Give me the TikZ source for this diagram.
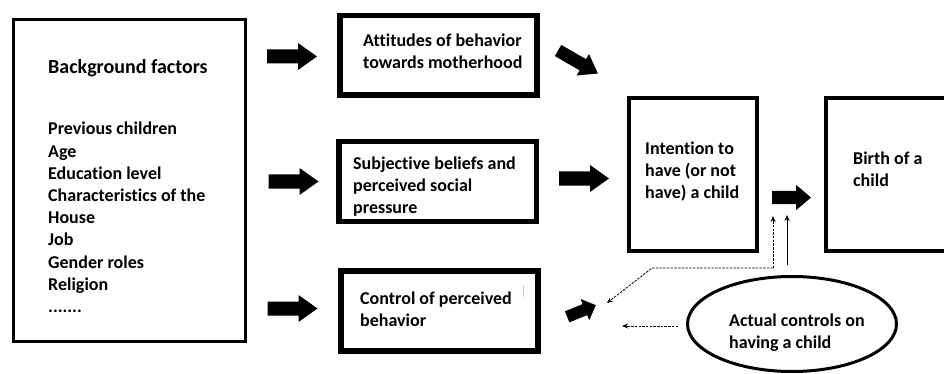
\documentclass[tikz,border=0pt]{standalone}
\usepackage{fontspec}
\setmainfont{Carlito}[Ligatures={TeX,NoCommon}]
\usetikzlibrary{shapes.geometric,arrows.meta}
\begin{document}
\begin{tikzpicture}[x=1pt, y=1pt, >={Stealth[length=6pt,width=5pt]},
		frame/.style={draw, rectangle, inner sep=0pt},
		txt/.style={font=\fontsize{18}{22}\selectfont\bfseries, align=left, anchor=north west, inner sep=0pt},
		dasharrow/.style={->, line width=0.8pt, dash pattern=on 2.5pt off 1.2pt},
		pics/fatarrow/.style={code={\fill (-25,-7) -- (6,-7) -- (6,-13.5) -- (25,0) -- (6,13.5) -- (6,7) -- (-25,7) -- cycle;}}]
	\clip (0,0) rectangle (944,-374);
	\node[frame, line width=3pt, minimum width=232, minimum height=322] (bgbox) at (129.5,-180.5) {};
	\node[frame, line width=5.5pt, minimum width=197, minimum height=79.5] (attbox) at (438.5,-55.25) {};
	\node[frame, line width=5.5pt, minimum width=197.5, minimum height=79.5] (subjbox) at (437.5,-181.5) {};
	\node[frame, line width=6pt, minimum width=197, minimum height=80] (ctrlbox) at (439.5,-311) {};
	\node[frame, line width=4pt, minimum width=128, minimum height=153] (intbox) at (693,-174.5) {};
	\node[frame, line width=4pt, minimum width=124, minimum height=153] (birthbox) at (888,-174.5) {};
	\node[draw, ellipse, line width=3pt, inner sep=0pt, minimum width=209, minimum height=95] (actell) at (792,-324) {};
	\node[txt, font=\fontsize{20}{24}\selectfont\bfseries] (bgtitle) at (48,-59) {Background factors};
	\node[txt, font=\fontsize{18}{22.2}\selectfont\bfseries] (bglist) at (48,-122) {Previous children\\Age\\Education level\\Characteristics of the\\House\\Job\\Gender roles\\Religion\\.......};
	\node[txt] (atttext) at (363,-33.5) {Attitudes of behavior\\towards motherhood};
	\node[txt] (subjtext) at (353,-156.5) {Subjective beliefs and\\perceived social\\pressure};
	\node[txt] (ctrltext) at (360,-291.5) {Control of perceived\\behavior};
	\node[txt] (inttext) at (645,-142) {Intention to\\have (or not\\have) a child};
	\node[txt] (birthtext) at (853,-151.5) {Birth of a\\child};
	\node[txt] (acttext) at (729,-313.5) {Actual controls on\\having a child};
	\draw[cyan!40, line width=0.8pt] (523,-285) -- (523,-297);
	\pic at (292,-56.5) {fatarrow};
	\pic at (293.5,-181.5) {fatarrow};
	\pic at (292.5,-308.5) {fatarrow};
	\pic at (584,-178.5) {fatarrow};
	\pic[rotate=-30, scale=0.92] at (578,-62) {fatarrow};
	\pic[rotate=22, xscale=0.62, yscale=0.85] at (581.5,-311) {fatarrow};
	\pic[xscale=0.78, yscale=0.93] at (791.5,-197.5) {fatarrow};
	\coordinate (split) at (773,-268);
	\coordinate (splitup) at (773,-216);
	\coordinate (bend) at (652,-268);
	\coordinate (ctltip) at (607,-303);
	\coordinate (solidfoot) at (787,-265);
	\coordinate (solidtip) at (787,-215);
	\coordinate (leftfoot) at (678,-326);
	\coordinate (lefttip) at (622,-326);
	\draw[dasharrow] (split) -- (splitup);
	\draw[dasharrow] (split) -- (bend) -- (ctltip);
	\draw[->, line width=0.8pt] (solidfoot) -- (solidtip);
	\draw[dasharrow] (leftfoot) -- (lefttip);
\end{tikzpicture}
\end{document}
